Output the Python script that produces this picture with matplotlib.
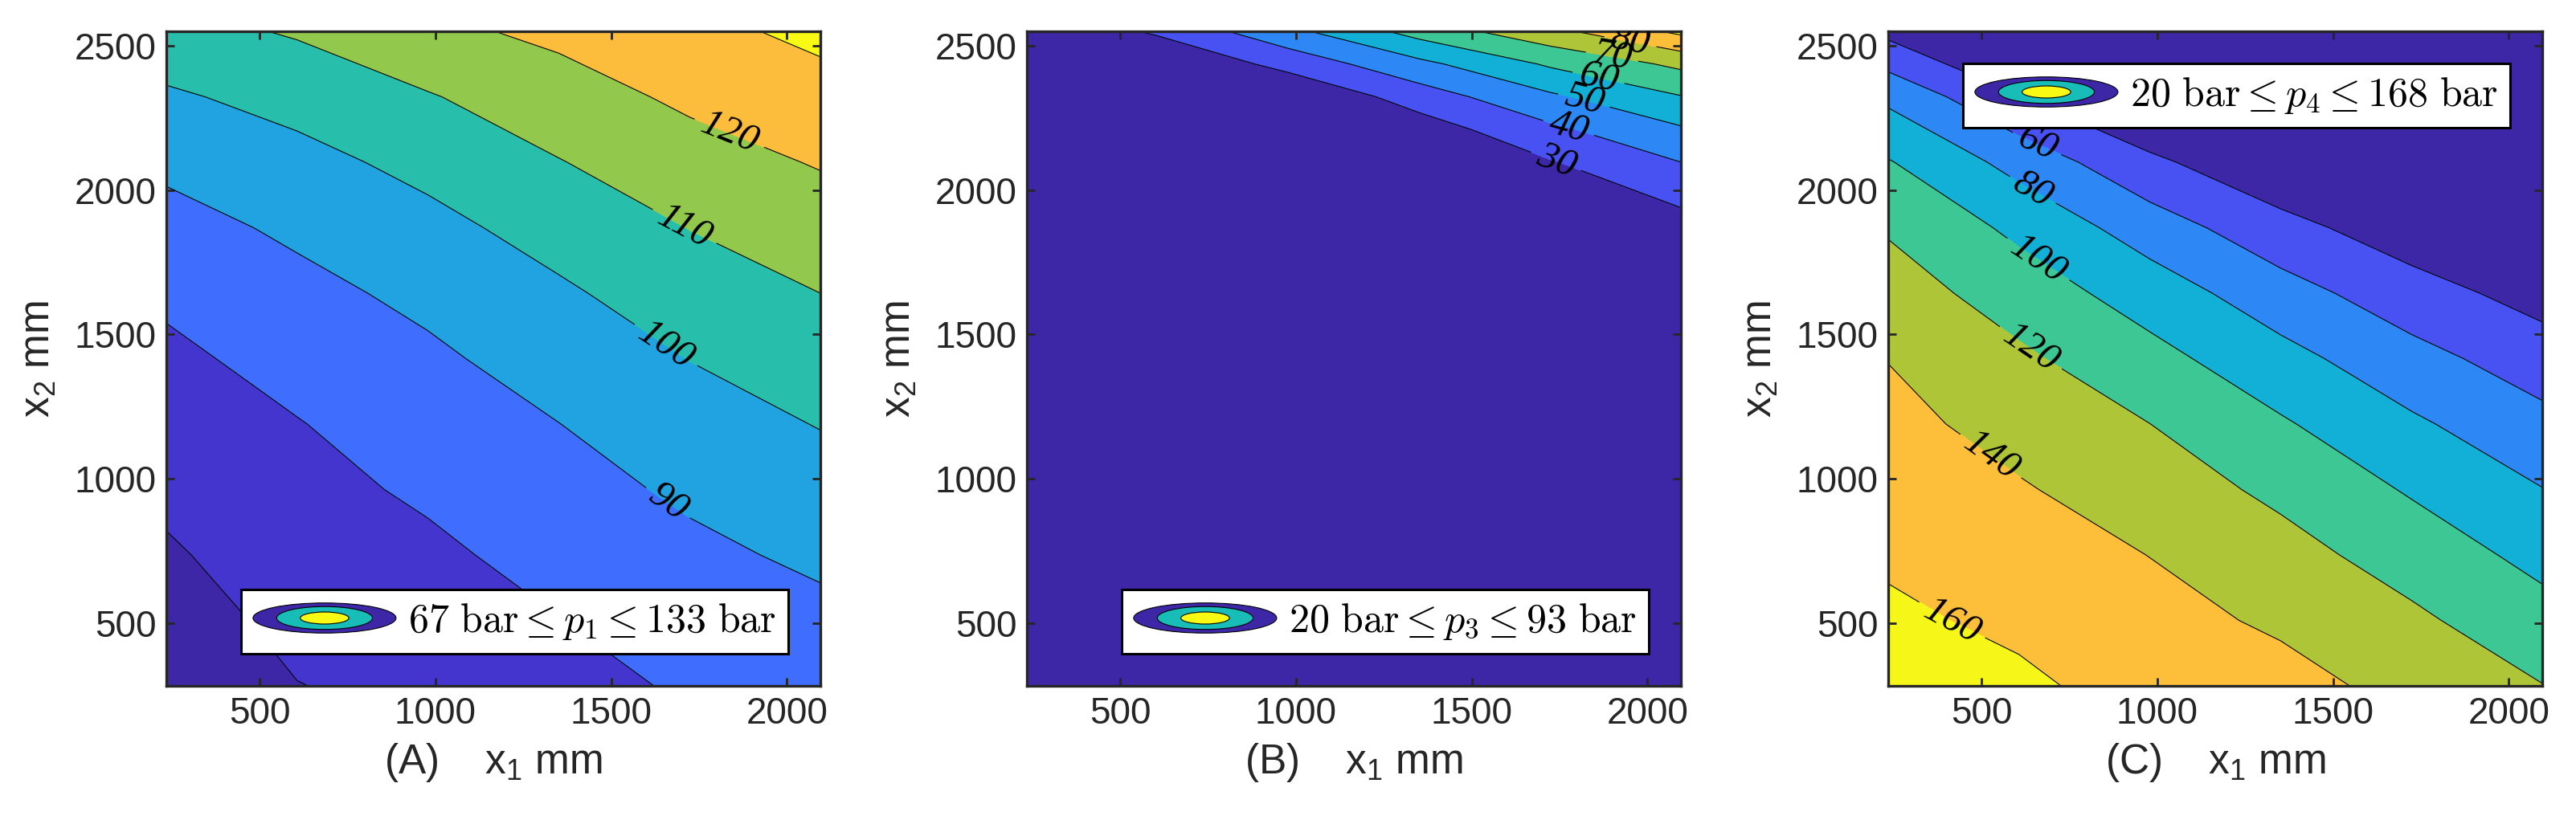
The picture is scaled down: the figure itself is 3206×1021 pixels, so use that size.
import numpy as np
import matplotlib.pyplot as plt
from matplotlib.patches import Ellipse
from matplotlib.legend_handler import HandlerBase

x1_nodes = [235, 607, 979, 1351, 1723, 2095]
x2_nodes_ac = [283, 510, 737, 963, 1190, 1417, 1643, 1870, 2097, 2323, 2550]
x2_nodes_b = [283, 1190, 1643, 1870, 2097, 2210, 2323, 2437, 2550]

# p1 (bar), rows = x2_nodes_ac bottom -> top, cols = x1_nodes
p1_values = [
    [63.3, 69.8, 72.2, 76.8, 81.2, 83.6],
    [66.1, 72.3, 75.2, 79.8, 84.6, 87.6],
    [68.9, 74.7, 78.2, 83.2, 87.9, 91.8],
    [71.9, 77.2, 81.4, 86.5, 91.6, 96.1],
    [75.0, 79.6, 84.8, 89.9, 95.9, 100.4],
    [78.0, 83.3, 88.3, 94.2, 100.2, 105.2],
    [81.7, 87.3, 92.3, 98.5, 105.2, 110.0],
    [86.6, 91.7, 97.2, 103.8, 110.2, 115.3],
    [92.0, 97.0, 102.8, 109.6, 116.0, 120.7],
    [98.6, 103.3, 109.3, 115.8, 121.8, 126.4],
    [106.5, 111.0, 117.8, 122.1, 127.3, 132.3],
]

# p3 (bar), rows = x2_nodes_b
p3_values = [
    [20, 20, 20, 20, 20, 20],
    [20, 20, 20, 20, 20, 20],
    [20, 20, 20, 20, 21, 22],
    [20, 20, 20, 20.5, 23, 25.6],
    [20, 20, 20, 21, 29.3, 40],
    [20, 20, 20, 24.8, 37.9, 48.8],
    [20, 20, 20, 34.9, 48.2, 59.5],
    [20, 20, 33.5, 47.4, 61.4, 72.2],
    [20, 31.6, 47.2, 64.0, 77.1, 92.3],
]

# p4 (bar), rows = x2_nodes_ac
p4_values = [
    [168.5, 163.4, 152.8, 146.6, 134.1, 120.5],
    [163.3, 156.3, 146.4, 137.0, 123.7, 107.4],
    [157.4, 149.0, 139.7, 126.9, 111.5, 94.0],
    [151.5, 141.8, 129.9, 115.8, 98.0, 80.5],
    [145.6, 132.9, 120.1, 102.3, 83.2, 65.8],
    [139.5, 123.4, 106.4, 86.6, 66.8, 49.6],
    [129.2, 110.9, 90.7, 68.3, 48.3, 32.4],
    [118.0, 95.5, 70.2, 46.6, 28.7, 26.0],
    [101.3, 73.1, 44.1, 23.6, 22.0, 22.0],
    [75.7, 40.6, 17.0, 18.0, 18.0, 19.0],
    [34.6, 24.0, 14.0, 14.0, 15.0, 16.0],
]

p1_levels = [70, 80, 90, 100, 110, 120, 130]
p3_levels = [30, 40, 50, 60, 70, 80, 90]
p4_levels = [40, 60, 80, 100, 120, 140, 160]

legend_texts = [
    r'$\mathrm{67\ bar} \leq p_1 \leq \mathrm{133\ bar}$',
    r'$\mathrm{20\ bar} \leq p_3 \leq \mathrm{93\ bar}$',
    r'$\mathrm{20\ bar} \leq p_4 \leq \mathrm{168\ bar}$',
]
panel_tags = ['(A)', '(B)', '(C)']

# where the inline labels sit (data coords), one per labelled line
label_spots = [
    [(1667, 926), (1656, 1463), (1711, 1879), (1836, 2196)],
    [(1740, 2100), (1776, 2217), (1819, 2310), (1861, 2389), (1899, 2462), (1952, 2520)],
    [(660, 2165), (653, 2015), (668, 1771), (645, 1462), (528, 1081), (419, 517)],
]

fill_colors = [
    ['#3d27a6', '#4435cf', '#3f6dfe', '#21a2e1', '#27bfab', '#92c94c', '#fdbd3c', '#f8fa14'],
    ['#3d27a6', '#4851f1', '#2d88f5', '#12b0d6', '#3cc794', '#aec537', '#fdbf3a', '#f6f619'],
    ['#3d27a6', '#4851f1', '#2d88f5', '#12b0d6', '#3cc794', '#aec537', '#fdbf3a', '#f6f619'],
]

DARK = '#262626'
plt.rcParams['font.family'] = ['Liberation Sans', 'DejaVu Sans']
plt.rcParams['mathtext.fontset'] = 'custom'
plt.rcParams['mathtext.rm'] = 'Liberation Sans'
plt.rcParams['mathtext.it'] = 'Liberation Sans:italic'


class ContourIcon(HandlerBase):
    # three nested ellipses, like the legend icon of a filled contour
    def create_artists(self, legend, orig_handle, xdescent, ydescent,
                       width, height, fontsize, trans):
        cx = width / 2 - xdescent
        cy = height / 2 - ydescent
        out = []
        for wf, hf, c in [(1.0, 1.0, '#3d27a6'), (0.67, 0.76, '#17bdb6'), (0.34, 0.40, '#f8fa14')]:
            e = Ellipse((cx, cy), width * wf, 27 * hf, facecolor=c,
                        edgecolor='k', lw=0.8, transform=trans)
            out.append(e)
        return out


fig = plt.figure(figsize=(32.06, 10.21), dpi=100)
lefts = [207 / 3206, 1278 / 3206, 2350 / 3206]
fields = [(x2_nodes_ac, p1_values, p1_levels),
          (x2_nodes_b, p3_values, p3_levels),
          (x2_nodes_ac, p4_values, p4_levels)]
legend_locs = ['lower right', 'lower right', 'upper right']

for i, (x2n, vals, lv) in enumerate(fields):
    ax = fig.add_axes([lefts[i], 167 / 1021, 814 / 3206, 815 / 1021])
    X1, X2 = np.meshgrid(x1_nodes, x2n)
    Z = np.array(vals, dtype=float)
    bounds = [Z.min() - 1] + lv + [Z.max() + 1]
    ax.contourf(X1, X2, Z, levels=bounds, colors=fill_colors[i])
    cs = ax.contour(X1, X2, Z, levels=lv, colors='k', linewidths=0.8)
    texts = ax.clabel(cs, manual=label_spots[i], inline=True,
                      fmt='%d', fontsize=35, inline_spacing=6)
    for t in texts:
        t.set_fontfamily('Liberation Serif')
        t.set_fontstyle('italic')

    ax.set_xlim(x1_nodes[0], x1_nodes[-1])
    ax.set_ylim(x2n[0], x2n[-1])
    ax.set_xticks([500, 1000, 1500, 2000])
    ax.set_yticks([500, 1000, 1500, 2000, 2500])
    ax.tick_params(direction='in', length=7, width=2, top=True, right=True,
                   labelsize=33, colors=DARK, pad=9)
    for sp in ax.spines.values():
        sp.set_linewidth(2.4)
        sp.set_color(DARK)
    ax.set_xlabel(panel_tags[i] + '    x$_1$ mm', fontsize=37, color=DARK, labelpad=9)
    ax.set_ylabel('x$_2$ mm', fontsize=37, color=DARK, labelpad=14)

    proxy = Ellipse((0, 0), 1, 1)
    leg = ax.legend([proxy], [legend_texts[i]], loc=legend_locs[i],
                    handler_map={proxy: ContourIcon()}, fontsize=36,
                    handlelength=3.56, handleheight=0.7, handletextpad=0.3,
                    borderpad=0.3, borderaxespad=0.8, fancybox=False,
                    framealpha=1, edgecolor='k')
    leg.get_frame().set_linewidth(2.2)
    for t in leg.get_texts():
        t.set_math_fontfamily('cm')

fig.savefig('out.png', dpi=100)
